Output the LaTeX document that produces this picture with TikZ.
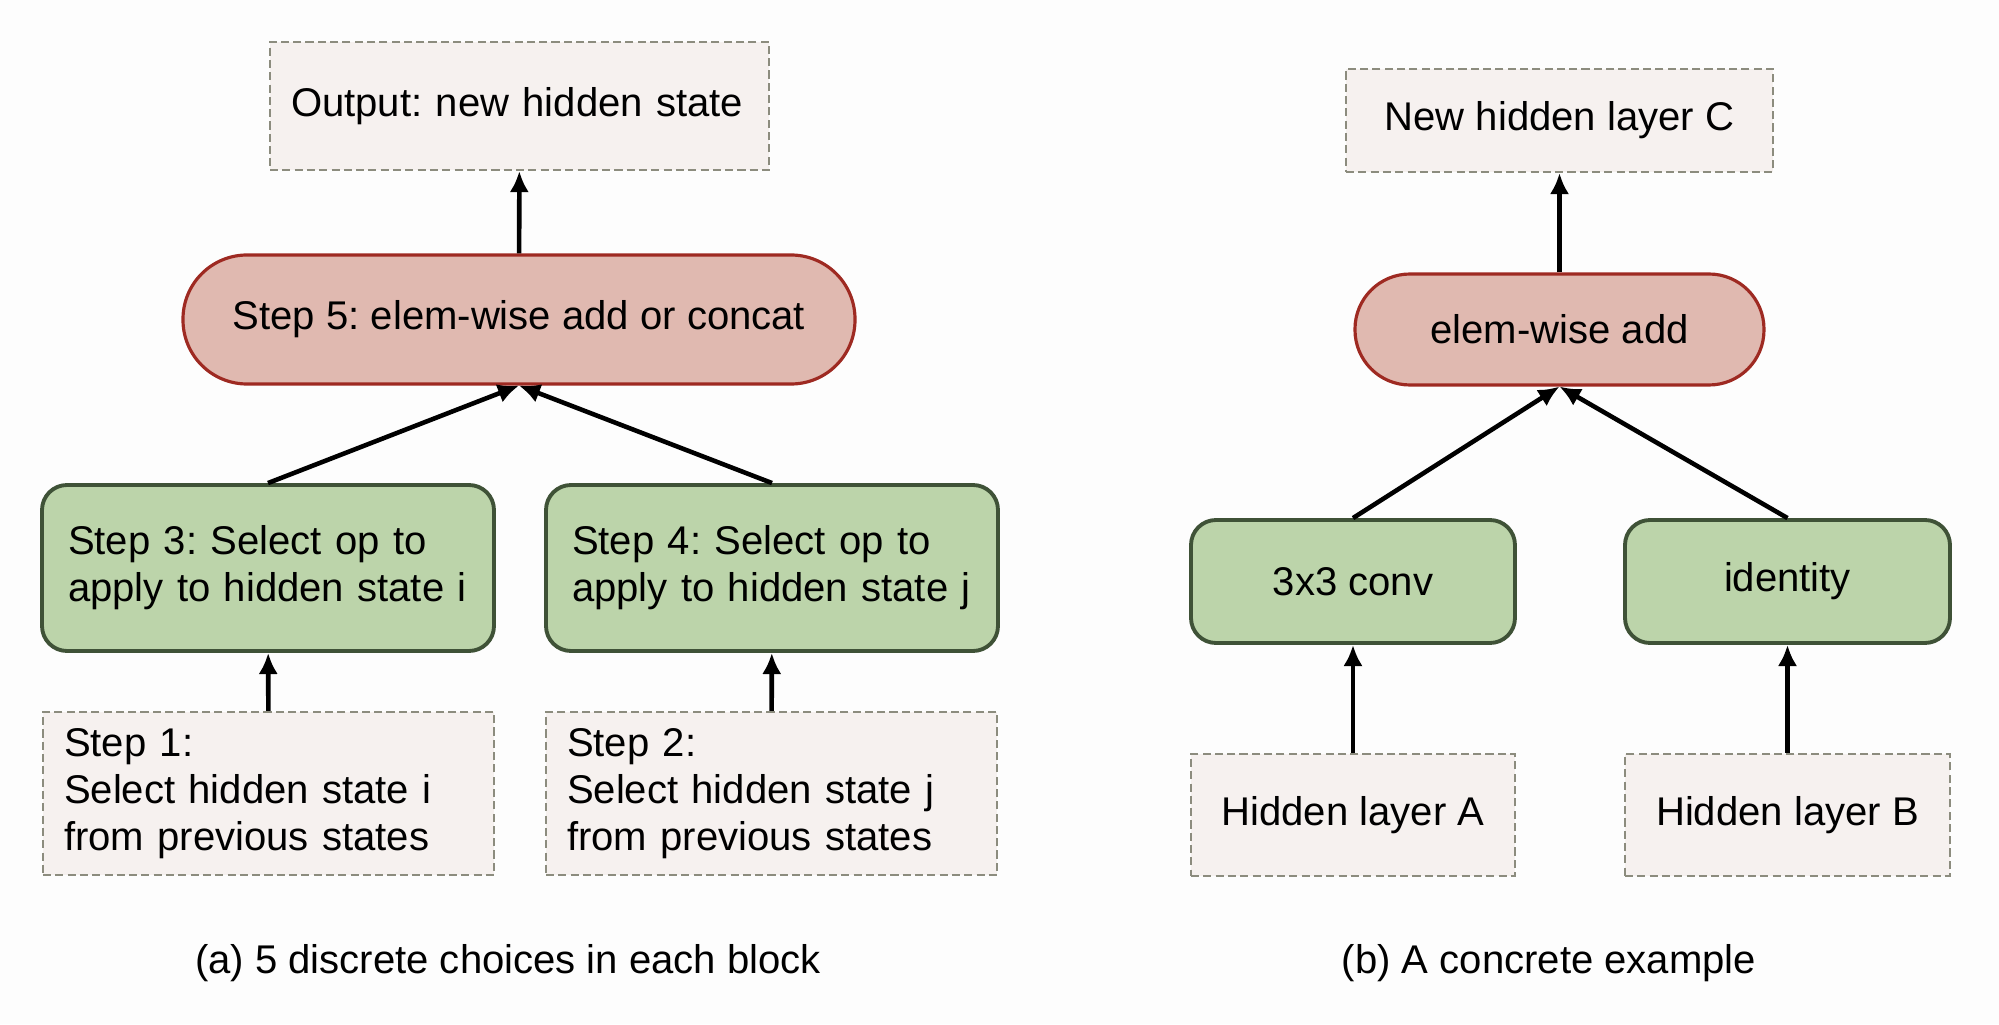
\documentclass[tikz,border=0pt]{standalone}
\usepackage{fontspec}
\setmainfont{Liberation Sans}
\frenchspacing
\usetikzlibrary{arrows.meta}
\definecolor{pagebg}{HTML}{FDFDFD}
\definecolor{statefill}{HTML}{F6F1EF}
\definecolor{stateline}{HTML}{8C8C7E}
\definecolor{opfill}{HTML}{BCD4AA}
\definecolor{opline}{HTML}{3F5237}
\definecolor{addfill}{HTML}{E0B9B0}
\definecolor{addline}{HTML}{9E2A22}

\begin{document}
\begin{tikzpicture}[
    font=\fontsize{11.4pt}{13.4pt}\selectfont,
    statebox/.style={draw=stateline, fill=statefill, line width=0.6pt,
      dash pattern=on 2.3pt off 1.2pt, inner ysep=0pt},
    opbox/.style={draw=opline, fill=opfill, line width=1.1pt,
      rounded corners=0.25cm, inner ysep=0pt},
    addpill/.style={draw=addline, fill=addfill, line width=0.9pt, inner sep=0pt},
    flow/.style={-{Latex[length=6pt,width=5.5pt]}, line width=1.3pt}
  ]
    \fill[pagebg] (0,0) rectangle (19.99,10.24);

    % (a) the five choices
    \node[statebox, inner xsep=0.21cm, text width=4.57cm, minimum height=1.28cm,
      align=left] (out) at (5.195,9.18) {Output: new hidden state};
    \node[addpill, rounded corners=0.64cm, minimum width=6.72cm, minimum height=1.29cm]
      (add) at (5.19,7.045) {Step 5: elem-wise add or concat};
    \node[opbox, inner xsep=0.26cm, text width=4.0cm, minimum height=1.66cm,
      align=left] (op3) at (2.68,4.56) {Step 3: Select op to\\apply to hidden state i};
    \node[opbox, inner xsep=0.26cm, text width=4.0cm, minimum height=1.66cm,
      align=left] (op4) at (7.72,4.56) {Step 4: Select op to\\apply to hidden state j};
    \node[statebox, inner xsep=0.21cm, text width=4.09cm, minimum height=1.63cm,
      align=left] (in1) at (2.685,2.305)
      {Step 1:\\Select hidden state i\\from previous states};
    \node[statebox, inner xsep=0.21cm, text width=4.09cm, minimum height=1.63cm,
      align=left] (in2) at (7.715,2.305)
      {Step 2:\\Select hidden state j\\from previous states};
    \node (capa) at (5.08,0.61) {(a) 5 discrete choices in each block};

    \draw[flow] (add) -- (out);
    \draw[flow] (op3.north) -- (add.south);
    \draw[flow] (op4.north) -- (add.south);
    \draw[flow] (in1) -- (op3);
    \draw[flow] (in2) -- (op4);

    % (b) a concrete example
    \node[statebox, minimum width=4.27cm, minimum height=1.03cm]
      (outC) at (15.595,9.035) {New hidden layer C};
    \node[addpill, rounded corners=0.55cm, minimum width=4.09cm, minimum height=1.11cm]
      (addR) at (15.595,6.945) {elem-wise add};
    \node[opbox, minimum width=3.24cm, minimum height=1.23cm]
      (conv) at (13.53,4.425) {3x3 conv};
    \node[opbox, minimum width=3.25cm, minimum height=1.23cm]
      (ident) at (17.875,4.425) {identity};
    \node[statebox, minimum width=3.24cm, minimum height=1.22cm]
      (hidA) at (13.53,2.09) {Hidden layer A};
    \node[statebox, minimum width=3.25cm, minimum height=1.22cm]
      (hidB) at (17.875,2.09) {Hidden layer B};
    \node (capb) at (15.49,0.61) {(b) A concrete example};

    \draw[flow] (addR) -- (outC);
    \draw[flow] (conv.north) -- (addR.south);
    \draw[flow] (ident.north) -- (addR.south);
    \draw[flow] (hidA) -- (conv);
    \draw[flow] (hidB) -- (ident);
\end{tikzpicture}
\end{document}
